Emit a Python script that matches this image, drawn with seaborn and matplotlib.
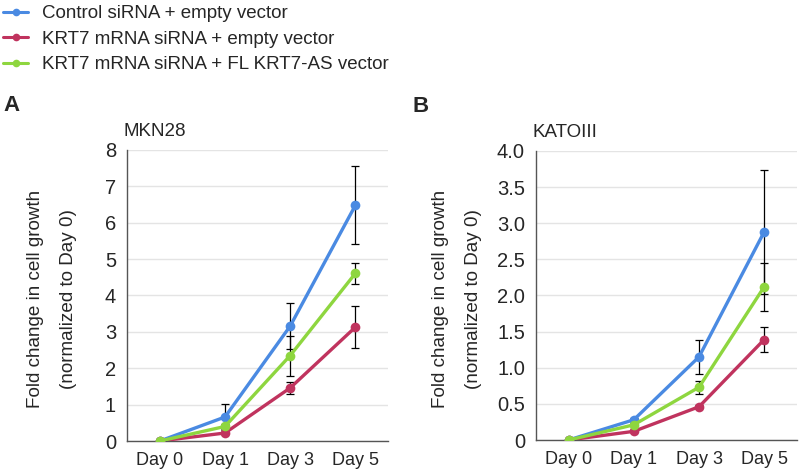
import pandas as pd
import matplotlib
matplotlib.use("Agg")
import matplotlib.pyplot as plt
import seaborn as sns

sns.set_style("white")
plt.rcParams['font.family'] = ['Liberation Sans', 'DejaVu Sans']

days = ['Day 0', 'Day 1', 'Day 3', 'Day 5']
groups = ['Control siRNA + empty vector',
          'KRT7 mRNA siRNA + empty vector',
          'KRT7 mRNA siRNA + FL KRT7-AS vector']
colors = ['#4a8ae2', '#c0335e', '#8ed63f']

# MKN28
mkn_ctrl = [0, 0.66, 3.16, 6.48]
mkn_ctrl_err = [0, 0.35, 0.64, 1.07]
mkn_kd = [0, 0.22, 1.46, 3.13]
mkn_kd_err = [0, 0.03, 0.16, 0.57]
mkn_res = [0, 0.40, 2.35, 4.61]
mkn_res_err = [0, 0.08, 0.55, 0.29]

# KATOIII
kato_ctrl = [0, 0.28, 1.15, 2.88]
kato_ctrl_err = [0, 0.02, 0.23, 0.86]
kato_kd = [0, 0.12, 0.46, 1.39]
kato_kd_err = [0, 0.01, 0.02, 0.17]
kato_res = [0, 0.21, 0.73, 2.12]
kato_res_err = [0, 0.02, 0.09, 0.33]


def make_df(vals, errs):
    rows = []
    for g, v, e in zip(groups, vals, errs):
        for d, vv, ee in zip(days, v, e):
            rows.append({'day': d, 'group': g, 'value': vv, 'err': ee})
    return pd.DataFrame(rows)


df_mkn = make_df([mkn_ctrl, mkn_kd, mkn_res], [mkn_ctrl_err, mkn_kd_err, mkn_res_err])
df_kato = make_df([kato_ctrl, kato_kd, kato_res], [kato_ctrl_err, kato_kd_err, kato_res_err])

fig = plt.figure(figsize=(8, 4.74), dpi=100)
ax1 = fig.add_axes([0.159, 0.0696, 0.326, 0.614])
ax2 = fig.add_axes([0.670, 0.0717, 0.326, 0.610])

panels = [(ax1, df_mkn, 'MKN28', 'A', 8, [0, 1, 2, 3, 4, 5, 6, 7, 8],
           ['0', '1', '2', '3', '4', '5', '6', '7', '8'], 52),
          (ax2, df_kato, 'KATOIII', 'B', 4, [0, 0.5, 1, 1.5, 2, 2.5, 3, 3.5, 4],
           ['0', '0.5', '1.0', '1.5', '2.0', '2.5', '3.0', '3.5', '4.0'], 457)]

for ax, df, title, letter, ymax, yt, ytl, labx in panels:
    # error bars first so lines sit on top
    for g in groups:
        sub = df[df['group'] == g]
        ax.errorbar([days.index(d) for d in sub['day']], sub['value'], yerr=sub['err'],
                    fmt='none', ecolor='black', elinewidth=0.9, capsize=3,
                    capthick=0.9, zorder=2)
    sns.lineplot(data=df, x='day', y='value', hue='group', palette=colors,
                 marker='o', markersize=7, markeredgewidth=0, linewidth=2.4,
                 ax=ax, legend=False, zorder=3)
    ax.set_xlim(-0.5, 3.5)
    ax.set_ylim(0, ymax)
    ax.set_yticks(yt)
    ax.set_yticklabels(ytl, fontsize=14.5)
    ax.set_xticks(range(4))
    ax.set_xticklabels(days, fontsize=13)
    ax.set_xticks([-0.5, 0.5, 1.5, 2.5, 3.5], minor=True)
    ax.tick_params(axis='x', which='major', length=0, pad=8)
    ax.tick_params(axis='x', which='minor', length=4, width=0.8, color='#555555')
    ax.tick_params(axis='y', length=4, width=0.8, color='#555555', pad=4)
    ax.yaxis.grid(True, color='#e4e4e4', linewidth=1)
    ax.set_axisbelow(True)
    for s in ['top', 'right']:
        ax.spines[s].set_visible(False)
    for s in ['left', 'bottom']:
        ax.spines[s].set_color('#555555')
        ax.spines[s].set_linewidth(1)
    ax.set_xlabel('')
    ax.set_ylabel('')
    fig.text(labx / 800, 1 - 299 / 474,
             'Fold change in cell growth\n(normalized to Day 0)', fontsize=13.6,
             rotation=90, ha='center', va='center', linespacing=2.2,
             multialignment='center')
    ax.text(-0.015, 1.065, title, transform=ax.transAxes, fontsize=13.5, ha='left',
            va='center')
    ax.text(-0.475, 1.153, letter, transform=ax.transAxes,
            fontsize=16, fontweight='bold', ha='left', va='center')

handles = [plt.Line2D([], [], color=c, marker='o', markersize=5.5, markeredgewidth=0,
                      linewidth=2.2) for c in colors]
fig.legend(handles, groups, loc='upper left', bbox_to_anchor=(0.002, 0.993),
           frameon=False, fontsize=13.5, handlelength=1.33, handletextpad=0.75,
           labelspacing=0.45, borderpad=0.1, borderaxespad=0)

fig.savefig('out.png', dpi=100)
